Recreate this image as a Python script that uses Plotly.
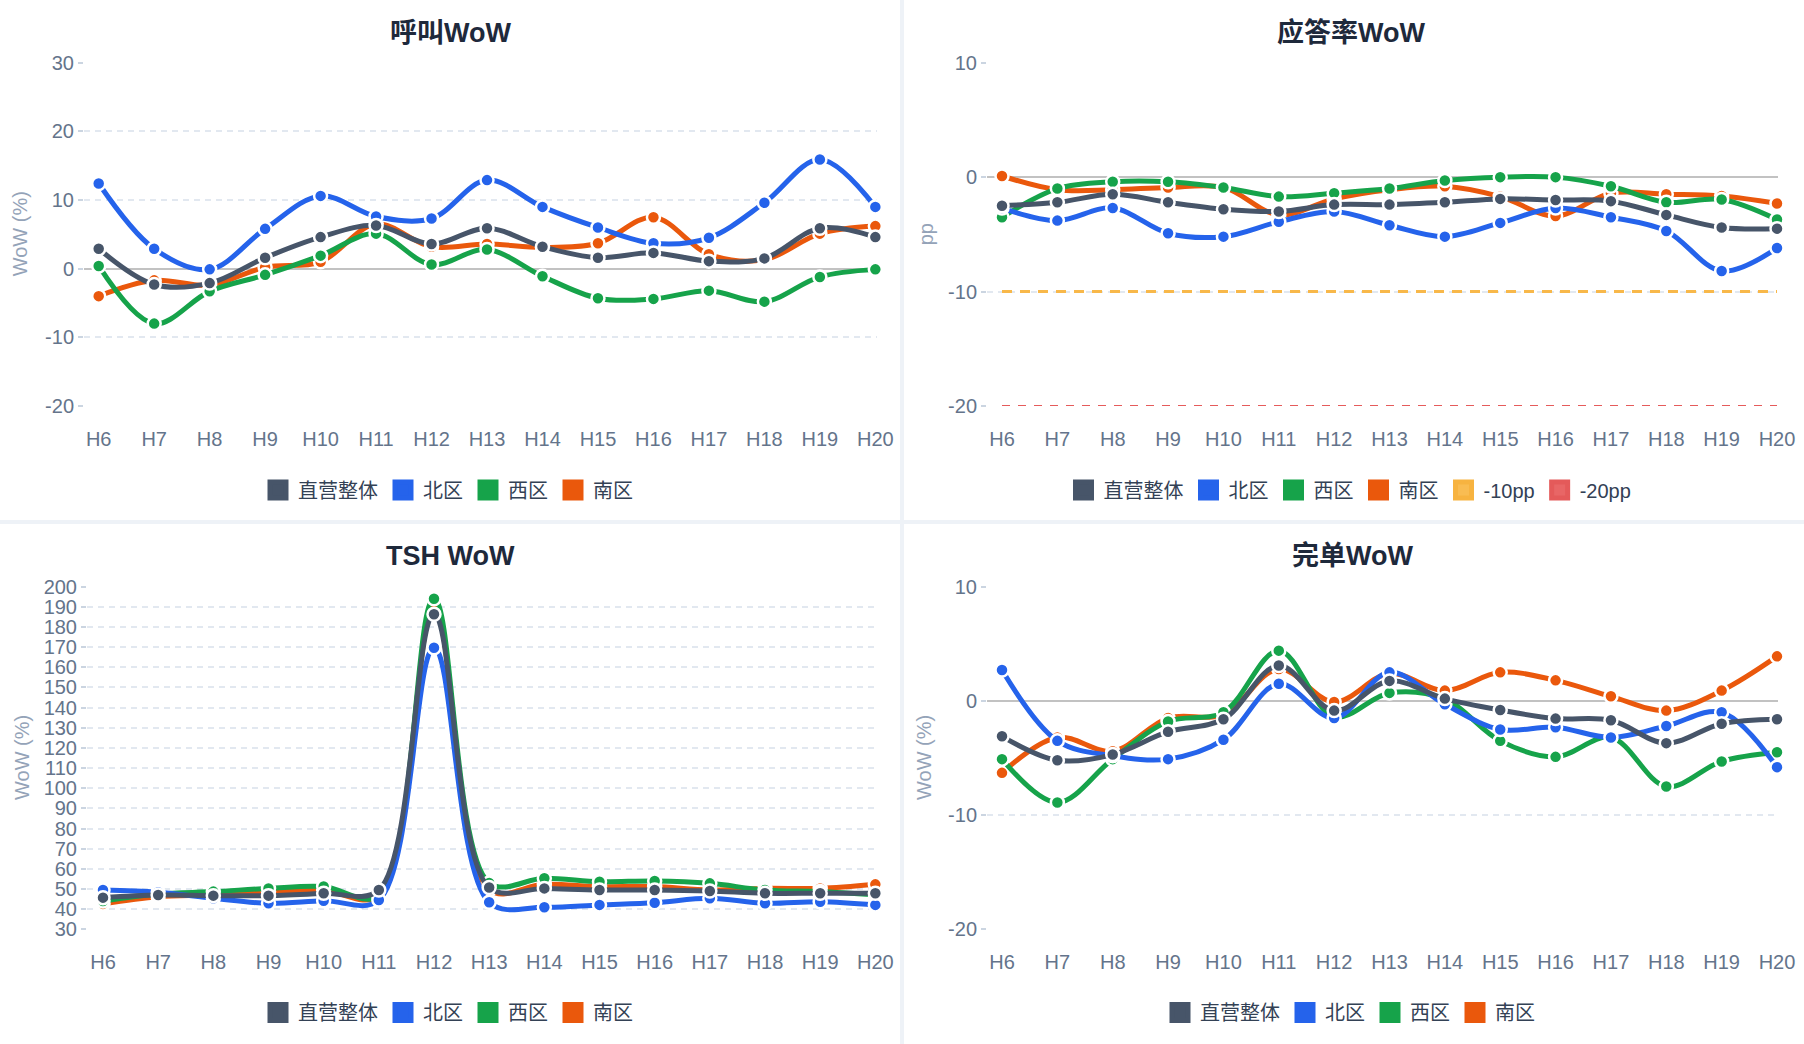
import plotly.graph_objects as go

# ---------------- data ----------------
HOURS = ["H6", "H7", "H8", "H9", "H10", "H11", "H12", "H13", "H14", "H15", "H16", "H17", "H18", "H19", "H20"]
SERIES = ["直营整体", "北区", "西区", "南区"]

# 呼叫WoW (%)
calls_total = [2.9, -2.3, -2.1, 1.6, 4.6, 6.3, 3.6, 5.9, 3.2, 1.6, 2.3, 1.1, 1.5, 5.9, 4.6]
calls_north = [12.4, 2.9, -0.1, 5.8, 10.6, 7.6, 7.3, 12.9, 9.0, 6.0, 3.7, 4.5, 9.6, 15.9, 9.0]
calls_west = [0.4, -8.0, -3.3, -0.9, 1.9, 5.1, 0.6, 2.8, -1.1, -4.3, -4.4, -3.2, -4.8, -1.2, -0.1]
calls_south = [-4.0, -1.7, -2.4, 0.2, 1.0, 6.5, 3.2, 3.6, 3.1, 3.7, 7.5, 2.1, 1.3, 5.1, 6.2]

# 应答率WoW (pp)
ans_total = [-2.5, -2.2, -1.5, -2.2, -2.8, -3.0, -2.4, -2.4, -2.2, -1.9, -2.0, -2.1, -3.3, -4.4, -4.5]
ans_north = [-2.7, -3.8, -2.7, -4.9, -5.2, -3.9, -3.0, -4.2, -5.2, -4.0, -2.7, -3.5, -4.7, -8.2, -6.2]
ans_west = [-3.5, -1.0, -0.4, -0.4, -0.9, -1.7, -1.4, -1.0, -0.3, 0.0, 0.0, -0.8, -2.2, -1.95, -3.7]
ans_south = [0.1, -1.1, -1.1, -0.9, -0.9, -3.3, -1.9, -1.1, -0.8, -1.7, -3.4, -1.4, -1.5, -1.65, -2.3]
ans_thr10 = [-10] * 15
ans_thr20 = [-20] * 15

# TSH WoW (%)
tsh_total = [45.7, 47.0, 46.7, 46.7, 47.9, 49.5, 186.3, 50.7, 50.3, 49.5, 49.5, 49.0, 47.9, 47.9, 47.9]
tsh_north = [49.5, 48.4, 45.4, 42.9, 44.2, 44.5, 169.7, 43.4, 40.9, 42.1, 43.2, 45.4, 42.9, 43.7, 42.1]
tsh_west = [44.0, 47.5, 48.7, 50.3, 51.2, 46.5, 194.0, 53.0, 55.3, 53.6, 54.0, 52.8, 49.5, 48.7, 47.0]
tsh_south = [42.6, 46.2, 47.0, 48.7, 49.2, 46.5, 189.0, 49.5, 52.3, 51.2, 51.2, 49.5, 50.3, 50.3, 52.3]

# 完单WoW (%)
done_total = [-3.1, -5.2, -4.7, -2.7, -1.6, 3.1, -0.85, 1.75, 0.2, -0.8, -1.55, -1.7, -3.7, -2.0, -1.6]
done_north = [2.7, -3.5, -4.8, -5.1, -3.4, 1.5, -1.5, 2.5, -0.3, -2.5, -2.3, -3.2, -2.2, -1.0, -5.8]
done_west = [-5.1, -8.9, -5.1, -1.8, -1.0, 4.4, -1.4, 0.7, 0.15, -3.5, -4.9, -3.2, -7.5, -5.3, -4.5]
done_south = [-6.3, -3.2, -4.4, -1.5, -1.2, 2.8, -0.1, 2.4, 0.9, 2.5, 1.8, 0.4, -0.85, 0.9, 3.9]

TICKS_A = [-20, -10, 0, 10, 20, 30]
TICKS_B = [-20, -10, 0, 10]
TICKS_TSH = [30, 40, 50, 60, 70, 80, 90, 100, 110, 120, 130, 140, 150, 160, 170, 180, 190, 200]

# ---------------- style ----------------
W, H = 1804, 1044
FONT = "Liberation Sans, Arial, Noto Sans CJK SC, sans-serif"
COLORS = {"直营整体": "#475569", "北区": "#2563eb", "西区": "#16a34a", "南区": "#ea580c"}
TICK_COLOR = "#64748b"
GRID_COLOR = "#e2e8f0"

fig = go.Figure()


def px_x(v):
    return v / W


def px_y(v):
    return 1 - v / H


panels = [
    dict(sfx="", data=[calls_total, calls_north, calls_west, calls_south], ticks=TICKS_A, yr=[-20, 30],
         xd=(84, 877), yd=(62.7, 406), xr=[-0.265, 14.03], title="呼叫WoW", tx=450, ty=33,
         ytitle="WoW (%)", ytx=20, lg="legend", lx=448, ly=490, zero=True),
    dict(sfx="2", data=[ans_total, ans_north, ans_west, ans_south], ticks=TICKS_B, yr=[-20, 10],
         xd=(987, 1778), yd=(62.7, 406), xr=[-0.271, 14.018], title="应答率WoW", tx=1351, ty=33,
         ytitle="pp", ytx=926, lg="legend2", lx=1350, ly=490, zero=True),
    dict(sfx="3", data=[tsh_total, tsh_north, tsh_west, tsh_south], ticks=TICKS_TSH, yr=[30, 200],
         xd=(87, 877), yd=(586.7, 929.3), xr=[-0.29, 14.03], title="TSH WoW", tx=450, ty=556,
         ytitle="WoW (%)", ytx=22, lg="legend3", lx=448, ly=1012.5, zero=False),
    dict(sfx="4", data=[done_total, done_north, done_west, done_south], ticks=TICKS_B, yr=[-20, 10],
         xd=(987, 1778), yd=(586.7, 929.3), xr=[-0.271, 14.018], title="完单WoW", tx=1352, ty=556,
         ytitle="WoW (%)", ytx=924, lg="legend4", lx=1350, ly=1012.5, zero=True),
]

layout_axes = {}
annotations = []
legends = {}

for p in panels:
    xa = "x" + p["sfx"]
    ya = "y" + p["sfx"]
    vals = dict(zip(SERIES, p["data"]))

    if p["sfx"] == "2":
        fig.add_trace(go.Scatter(x=HOURS, y=ans_thr10, xaxis=xa, yaxis=ya, mode="lines",
                                 line=dict(color="#f8b84a", width=3, dash="10px,8px"),
                                 showlegend=False, hoverinfo="skip"))
        fig.add_trace(go.Scatter(x=HOURS, y=ans_thr20, xaxis=xa, yaxis=ya, mode="lines",
                                 line=dict(color="#e55b5b", width=2, dash="8px,8px"),
                                 showlegend=False, hoverinfo="skip"))

    for name in ["南区", "西区", "北区", "直营整体"]:
        c = COLORS[name]
        fig.add_trace(go.Scatter(
            x=HOURS, y=vals[name], xaxis=xa, yaxis=ya, mode="lines+markers",
            line=dict(color=c, width=5, shape="spline", smoothing=1.0),
            marker=dict(size=13, color=c, line=dict(color="white", width=2.5)),
            cliponaxis=False, showlegend=False, name=name, hoverinfo="skip"))

    for name in SERIES:
        c = COLORS[name]
        fig.add_trace(go.Scatter(
            x=[None], y=[None], xaxis=xa, yaxis=ya, mode="markers", name=name,
            marker=dict(symbol="square", size=16, color=c, line=dict(color=c, width=5)),
            legend=p["lg"], showlegend=True))
    if p["sfx"] == "2":
        fig.add_trace(go.Scatter(
            x=[None], y=[None], xaxis=xa, yaxis=ya, mode="markers", name="-10pp",
            marker=dict(symbol="square", size=16, color="#f9bc52", line=dict(color="#f7b340", width=5)),
            legend=p["lg"], showlegend=True))
        fig.add_trace(go.Scatter(
            x=[None], y=[None], xaxis=xa, yaxis=ya, mode="markers", name="-20pp",
            marker=dict(symbol="square", size=16, color="#e86666", line=dict(color="#e45a5a", width=5)),
            legend=p["lg"], showlegend=True))

    layout_axes["xaxis" + p["sfx"]] = dict(
        domain=[px_x(p["xd"][0]), px_x(p["xd"][1])], range=p["xr"], type="category",
        anchor=ya, showgrid=False, zeroline=False, showline=False, ticks="",
        ticklabelstandoff=19, automargin=False,
        tickfont=dict(family=FONT, size=20, color=TICK_COLOR), fixedrange=True)
    layout_axes["yaxis" + p["sfx"]] = dict(
        domain=[px_y(p["yd"][1]), px_y(p["yd"][0])], range=p["yr"], anchor=xa,
        tickvals=p["ticks"], ticktext=[str(t) for t in p["ticks"]], automargin=False,
        showgrid=True, gridcolor=GRID_COLOR, gridwidth=1.5, griddash="6px,5px",
        zeroline=p["zero"], zerolinecolor="#c2c2c2", zerolinewidth=2,
        showline=False, ticks="outside", ticklen=5, tickcolor="#cbd5e1", tickwidth=1.5,
        tickfont=dict(family=FONT, size=20, color=TICK_COLOR), fixedrange=True)

    annotations.append(dict(
        text="<b>" + p["title"] + "</b>", x=px_x(p["tx"]), y=px_y(p["ty"]),
        xref="paper", yref="paper", xanchor="center", yanchor="middle", showarrow=False,
        font=dict(family=FONT, size=27, color="#1e293b")))
    annotations.append(dict(
        text=p["ytitle"], x=px_x(p["ytx"]), y=px_y((p["yd"][0] + p["yd"][1]) / 2),
        xref="paper", yref="paper", xanchor="center", yanchor="middle", showarrow=False,
        textangle=-90, font=dict(family=FONT, size=20, color="#94a3b8")))
    legends[p["lg"]] = dict(
        orientation="h", x=px_x(p["lx"]), y=px_y(p["ly"]), xanchor="center", yanchor="middle",
        xref="paper", yref="paper", bgcolor="rgba(0,0,0,0)",
        font=dict(family=FONT, size=20, color="#334155"), itemclick=False, itemdoubleclick=False)

shapes = []
for (x0, y0, x1, y1) in [(0, 0, 900, 520), (904, 0, 1804, 520), (0, 524, 900, 1044), (904, 524, 1804, 1044)]:
    shapes.append(dict(type="rect", xref="paper", yref="paper", x0=px_x(x0), x1=px_x(x1),
                       y0=px_y(y1), y1=px_y(y0), fillcolor="white", line=dict(width=0), layer="below"))

fig.update_layout(
    width=W, height=H, margin=dict(l=0, r=0, t=0, b=0, autoexpand=False),
    paper_bgcolor="#eef2f7", plot_bgcolor="rgba(0,0,0,0)",
    font=dict(family=FONT, color=TICK_COLOR),
    shapes=shapes, annotations=annotations, hovermode=False,
    **layout_axes, **legends)

fig.write_html("out.html", config={"displayModeBar": False},
               post_script="document.body.style.margin='0';document.body.style.overflow='hidden';")
